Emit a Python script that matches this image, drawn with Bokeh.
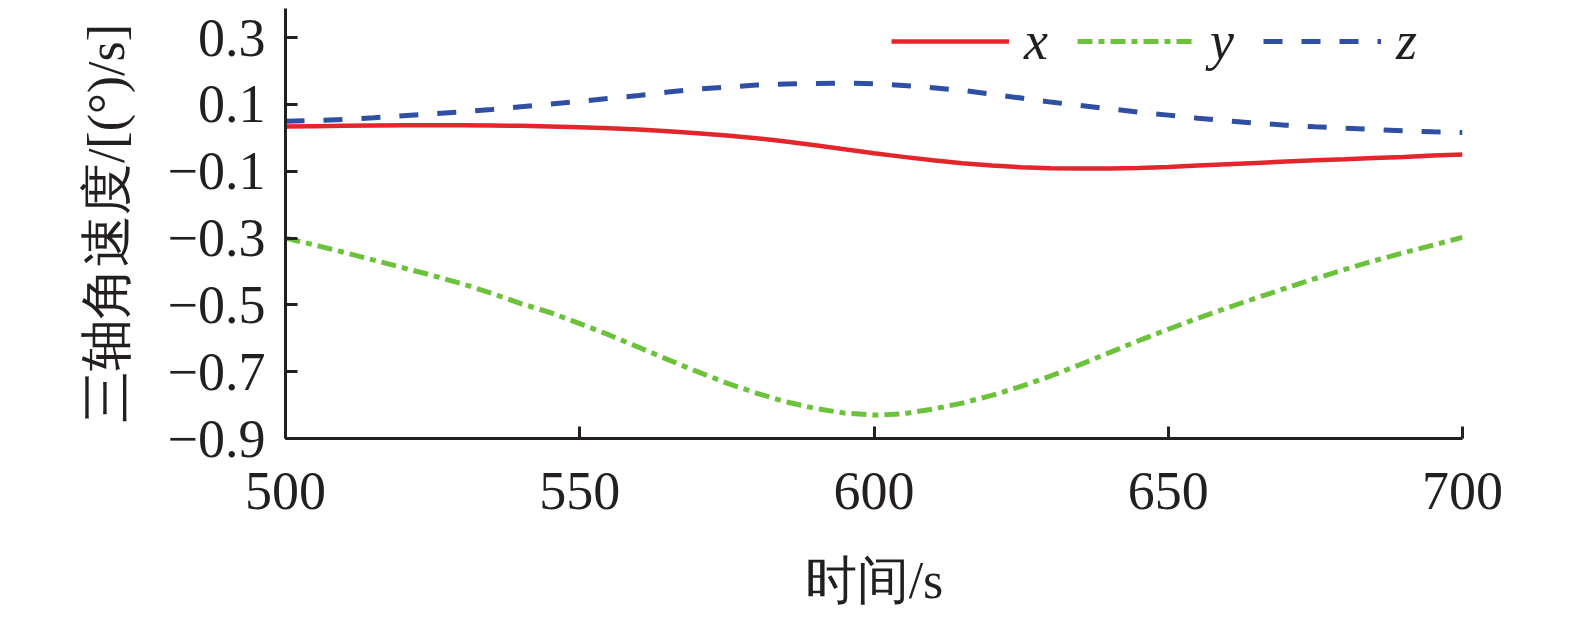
from bokeh.plotting import figure
from bokeh.models import Range1d, FixedTicker, CustomJSTickFormatter, Legend, LegendItem
from bokeh.embed import file_html
from bokeh.resources import INLINE

# ---- data ----
t = [500, 505, 510, 515, 520, 525, 530, 535, 540, 545, 550, 555, 560, 565, 570, 575,
     580, 585, 590, 595, 600, 605, 610, 615, 620, 625, 630, 635, 640, 645, 650, 655,
     660, 665, 670, 675, 680, 685, 690, 695, 700]

wx = [0.034, 0.035, 0.036, 0.037, 0.038, 0.038, 0.038, 0.037, 0.036, 0.034, 0.032,
      0.029, 0.025, 0.020, 0.014, 0.007, -0.001, -0.011, -0.022, -0.034, -0.046,
      -0.057, -0.067, -0.076, -0.083, -0.088, -0.091, -0.092, -0.092, -0.090, -0.087,
      -0.083, -0.079, -0.075, -0.071, -0.067, -0.064, -0.060, -0.057, -0.053, -0.050]

wy = [-0.300, -0.321, -0.343, -0.366, -0.389, -0.412, -0.437, -0.465, -0.496, -0.523,
      -0.556, -0.590, -0.627, -0.664, -0.700, -0.734, -0.764, -0.790, -0.810, -0.824,
      -0.830, -0.826, -0.812, -0.794, -0.771, -0.744, -0.713, -0.679, -0.643, -0.607,
      -0.573, -0.540, -0.509, -0.479, -0.450, -0.421, -0.394, -0.368, -0.344, -0.321,
      -0.298]

wz = [0.050, 0.052, 0.055, 0.060, 0.066, 0.072, 0.078, 0.085, 0.093, 0.101, 0.109,
      0.118, 0.127, 0.137, 0.146, 0.152, 0.158, 0.161, 0.163, 0.164, 0.162, 0.157,
      0.150, 0.142, 0.131, 0.119, 0.107, 0.097, 0.087, 0.077, 0.068, 0.059, 0.051,
      0.044, 0.038, 0.033, 0.029, 0.025, 0.021, 0.018, 0.016]

x_ticks = [500, 550, 600, 650, 700]
y_ticks = [-0.9, -0.7, -0.5, -0.3, -0.1, 0.1, 0.3]
series_names = ["x", "y", "z"]
x_label = "时间/s"
y_label = "三轴角速度/[(°)/s]"

FONT = "Liberation Serif"
INK = "#231f20"

p = figure(
    output_backend="svg", toolbar_location=None,
    frame_width=1177, frame_height=430,
    min_border_left=285, min_border_right=72, min_border_top=8, min_border_bottom=166,
    x_range=Range1d(500, 700), y_range=Range1d(-0.9, 0.3872),
    background_fill_color="white", border_fill_color="white",
)
p.outline_line_color = None
p.grid.visible = False

r1 = p.line(t, wx, line_color="#e3262c", line_width=4.5)
r2 = p.line(t, wy, line_color="#6cc23a", line_width=5, line_dash="15 6 6 6")
r3 = p.line(t, wz, line_color="#2f4fa4", line_width=5, line_dash="19 19")

legend = Legend(
    items=[LegendItem(label=series_names[0], renderers=[r1]),
           LegendItem(label=series_names[1], renderers=[r2]),
           LegendItem(label=series_names[2], renderers=[r3])],
    orientation="horizontal", location=(606, 366),
    glyph_width=118, glyph_height=40, label_standoff=15, spacing=29,
    padding=0, margin=0, border_line_alpha=0, background_fill_alpha=0,
    label_text_font=FONT, label_text_font_style="italic",
    label_text_font_size="54px", label_text_color=INK,
)
p.add_layout(legend, "center")

for ax in (p.xaxis[0], p.yaxis[0]):
    ax.axis_line_color = INK
    ax.axis_line_width = 3
    ax.major_tick_line_color = INK
    ax.major_tick_line_width = 3
    ax.major_tick_in = 12
    ax.major_tick_out = 0
    ax.minor_tick_line_color = None
    ax.major_label_text_font = FONT
    ax.major_label_text_font_size = "54px"
    ax.major_label_text_color = INK
    ax.axis_label_text_font = FONT
    ax.axis_label_text_font_size = "52px"
    ax.axis_label_text_font_style = "normal"
    ax.axis_label_text_color = INK

p.xaxis[0].ticker = FixedTicker(ticks=x_ticks)
p.xaxis[0].major_label_standoff = 34
p.xaxis[0].axis_label = x_label
p.xaxis[0].axis_label_standoff = 40

p.yaxis[0].ticker = FixedTicker(ticks=y_ticks)
p.yaxis[0].formatter = CustomJSTickFormatter(
    code="return (tick < 0 ? '\u2212' : '') + Math.abs(tick).toFixed(1);")
p.yaxis[0].major_label_standoff = 20
p.yaxis[0].axis_label = y_label
p.yaxis[0].axis_label_standoff = 30

open("out.html", "w").write(file_html(p, INLINE))
